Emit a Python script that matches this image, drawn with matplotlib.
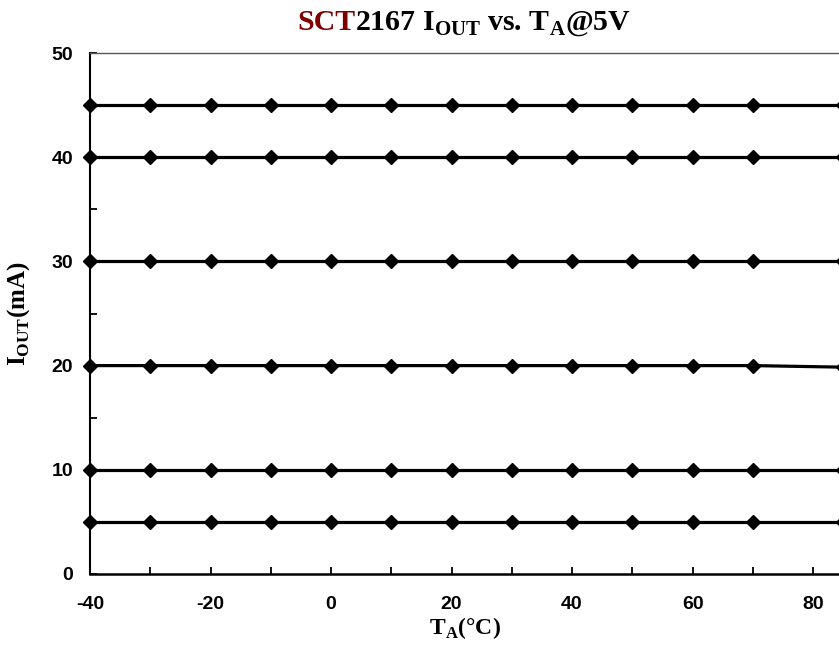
import matplotlib
matplotlib.use("Agg")
import matplotlib.pyplot as plt
from matplotlib.ticker import MultipleLocator

plt.rcParams["axes.unicode_minus"] = False

temps = [-40, -30, -20, -10, 0, 10, 20, 30, 40, 50, 60, 70, 85]
iout_45 = [45, 45, 45, 45, 45, 45, 45, 45, 45, 45, 45, 45, 45]
iout_40 = [40, 40, 40, 40, 40, 40, 40, 40, 40, 40, 40, 40, 40]
iout_30 = [30, 30, 30, 30, 30, 30, 30, 30, 30, 30, 30, 30, 30]
iout_20 = [20, 20, 20, 20, 20, 20, 20, 20, 20, 20, 20, 20, 19.85]
iout_10 = [10, 10, 10, 10, 10, 10, 10, 10, 10, 10, 10, 10, 10]
iout_5 = [5, 5, 5, 5, 5, 5, 5, 5, 5, 5, 5, 5, 5]

serif = "Liberation Serif"
sans = "Liberation Sans"

fig = plt.figure(figsize=(8.39, 6.47), dpi=100)
ax = fig.add_axes([90 / 839, 73 / 647, 749 / 839, 521 / 647])

for series in [iout_45, iout_40, iout_30, iout_20, iout_10, iout_5]:
    ax.plot(temps, series, color="black", lw=2.3, marker="D", ms=7,
            clip_on=False, zorder=3)

ax.set_xlim(-40, 84.3)
ax.set_ylim(0, 50)
ax.xaxis.set_major_locator(MultipleLocator(20))
ax.xaxis.set_minor_locator(MultipleLocator(10))
ax.yaxis.set_major_locator(MultipleLocator(10))
ax.yaxis.set_minor_locator(MultipleLocator(5))

ax.tick_params(axis="both", which="both", direction="in", length=5, width=1.3,
               color="black")
ax.tick_params(axis="x", which="major", pad=16)
ax.tick_params(axis="y", which="major", pad=12)
for lab in ax.get_xticklabels() + ax.get_yticklabels():
    lab.set_fontfamily(sans)
    lab.set_fontweight("bold")
    lab.set_fontsize(14)

ax.spines["right"].set_visible(False)
ax.spines["top"].set_color("#555555")
ax.spines["top"].set_linewidth(1.0)
ax.spines["left"].set_linewidth(1.5)
ax.spines["bottom"].set_linewidth(1.8)

ax.set_xlabel(r"T$_\mathregular{A}$(°C)", fontfamily=serif, fontweight="bold",
              fontsize=17, labelpad=1)
ax.set_ylabel(r"I$_\mathregular{OUT}$(mA)", fontfamily=serif, fontweight="bold",
              fontsize=18, labelpad=14)

# two-colour title assembled from pieces
renderer = fig.canvas.get_renderer()
ty = 1 - 30 / 647
t1 = fig.text(0, ty, "SCT", color="#7f0000", fontfamily=serif,
              fontweight="bold", fontsize=21.5, va="baseline")
t2 = fig.text(0, ty, r"2167 I$_\mathregular{OUT}$ vs. T$_\mathregular{A}$@5V",
              color="black", fontfamily=serif, fontweight="bold", fontsize=21.5,
              va="baseline")
w1 = t1.get_window_extent(renderer).width / fig.bbox.width
w2 = t2.get_window_extent(renderer).width / fig.bbox.width
cx = 464 / 839
x0 = cx - (w1 + w2) / 2
t1.set_x(x0)
t2.set_x(x0 + w1)

fig.savefig("out.png", dpi=100)
